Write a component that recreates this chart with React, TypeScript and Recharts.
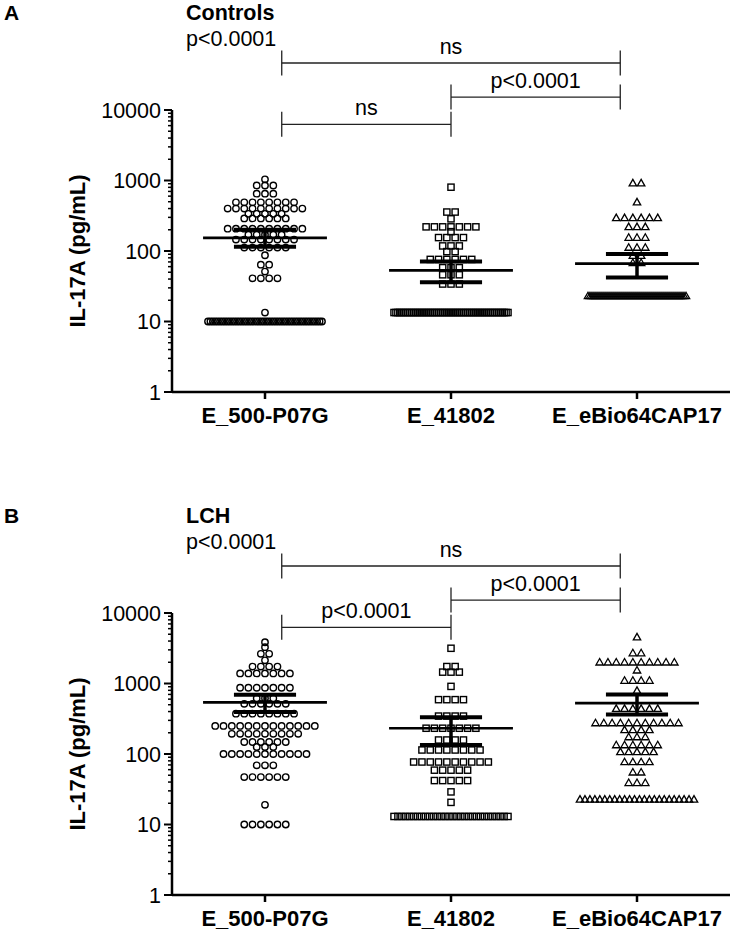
import { ScatterChart, Scatter, XAxis, YAxis, ReferenceLine } from "recharts";

const groups = ["E_500-P07G", "E_41802", "E_eBio64CAP17"];
const yMajor = [1, 10, 100, 1000, 10000];

// [value, how many samples at that value]
const ctrlP07G: [number, number][] = [
  [1040, 1], [850, 3], [650, 3], [490, 8], [400, 10], [337, 5], [290, 6], [207, 10],
  [170, 5], [145, 8], [112, 6], [87, 1], [64, 2], [51, 1], [41, 4], [13.4, 1], [10, 48],
];
const ctrl41802: [number, number][] = [
  [804, 1], [357, 2], [286, 1], [220, 7], [188, 1], [155, 4], [118, 3], [98, 2],
  [76, 6], [58, 3], [46, 3], [34, 3], [13.4, 60],
];
const ctrlEBio: [number, number][] = [
  [916, 2], [492, 1], [295, 6], [220, 3], [155, 3], [112, 3], [86, 2], [68, 2], [23, 50],
];
const ctrlMean = [154, 53, 66];
const ctrlSemHi = [200, 71, 91];
const ctrlSemLo = [115, 36, 42];
const ctrlTests = ["ns", "p<0.0001", "ns"]; // 1 vs 2, 2 vs 3, 1 vs 3

const lchP07G: [number, number][] = [
  [3850, 1], [3270, 1], [2640, 2], [2130, 1], [1740, 4], [1390, 7], [870, 7], [620, 3],
  [515, 6], [373, 8], [250, 13], [193, 9], [148, 6], [126, 3], [100, 11], [69, 3],
  [47, 6], [19, 1], [10, 6],
];
const lch41802: [number, number][] = [
  [3160, 1], [1740, 2], [1450, 3], [910, 1], [590, 4], [345, 4], [232, 7], [158, 4],
  [114, 8], [77, 10], [59, 5], [42, 5], [29, 1], [20.6, 1], [13, 30],
];
const lchEBio: [number, number][] = [
  [4540, 1], [2700, 2], [2000, 10], [1540, 1], [1100, 4], [790, 1], [440, 6], [275, 11],
  [220, 4], [174, 3], [134, 6], [107, 5], [77, 4], [55, 2], [39, 3], [22.7, 24],
];
const lchMean = [540, 232, 527];
const lchSemHi = [690, 333, 700];
const lchSemLo = [394, 134, 364];
const lchTests = ["p<0.0001", "p<0.0001", "ns"];

const yTicks = yMajor.flatMap((d, i) =>
  i < yMajor.length - 1 ? [1, 2, 3, 4, 5, 6, 7, 8, 9].map((m) => d * m) : [d]
);

// layout
const PLOT_W = 558;
const UNIT = PLOT_W / 3; // px per category column
const STEP = 8.3; // px between symbols in a row
const BRACKET_X = [0.59, 1.5, 2.41];
const BRACKET_LEVEL = [-0.203, 0.184, 0.667]; // decades above the 10000 line
const BRACKET_TICK = 0.177;
const FONT = "'Liberation Sans', Arial, Helvetica, sans-serif";

function swarm(rows: [number, number][], g: number, maxW: number) {
  const pts: { x: number; y: number }[] = [];
  rows.forEach(([v, n]) => {
    const step = n > 1 ? Math.min(STEP, maxW / (n - 1)) : 0;
    for (let i = 0; i < n; i++) {
      pts.push({ x: g + 0.5 + ((i - (n - 1) / 2) * step) / UNIT, y: v });
    }
  });
  return pts;
}

const Circle = (p: any) => (
  <circle cx={p.cx} cy={p.cy} r={3.2} fill="none" stroke="#000" strokeWidth={1.4} />
);
const Square = (p: any) => (
  <rect x={p.cx - 3.1} y={p.cy - 3.1} width={6.2} height={6.2} fill="none" stroke="#000" strokeWidth={1.4} />
);
const Triangle = (p: any) => (
  <path
    d={`M${p.cx},${p.cy - 3.8}L${p.cx + 3.7},${p.cy + 2.7}L${p.cx - 3.7},${p.cy + 2.7}Z`}
    fill="none"
    stroke="#000"
    strokeWidth={1.3}
  />
);
const SHAPES = [Circle, Square, Triangle];

function YTick(props: any) {
  const { x, y, payload } = props;
  const major = yMajor.includes(payload.value);
  return (
    <g>
      <line x1={x - (major ? 8 : 4)} x2={x} y1={y} y2={y} stroke="#000" strokeWidth={major ? 2 : 1.5} />
      {major && (
        <text x={x - 11} y={y} dy="0.36em" textAnchor="end" fontSize={21.5} fill="#000">
          {payload.value}
        </text>
      )}
    </g>
  );
}

type PanelProps = {
  top: number;
  letter: string;
  title: string;
  series: [number, number][][];
  mean: number[];
  hi: number[];
  lo: number[];
  tests: string[];
  floorW: number[];
};

function Panel({ top, letter, title, series, mean, hi, lo, tests, floorW }: PanelProps) {
  const data = series.map((rows, g) => swarm(rows, g, floorW[g]));
  const pairs = [[0, 1], [1, 2], [0, 2]];
  return (
    <div style={{ position: "absolute", left: 0, top, width: 733, height: 450 }}>
      <ScatterChart width={733} height={450} margin={{ top: 110, right: 3, bottom: 0, left: 0 }}>
        <XAxis
          type="number"
          dataKey="x"
          domain={[0, 3]}
          ticks={[0.5, 1.5, 2.5]}
          interval={0}
          tickFormatter={(v) => groups[Math.floor(v)]}
          height={58}
          axisLine={{ stroke: "#000", strokeWidth: 2.5 }}
          tickLine={{ stroke: "#000", strokeWidth: 2.5 }}
          tickSize={7}
          tickMargin={8}
          tick={{ fill: "#000", fontSize: 22, fontWeight: 700 }}
        />
        <YAxis
          type="number"
          dataKey="y"
          scale="log"
          domain={[1, 10000]}
          allowDataOverflow
          ticks={yTicks}
          interval={0}
          width={172}
          axisLine={{ stroke: "#000", strokeWidth: 2.5 }}
          tickLine={false}
          tickSize={0}
          tickMargin={0}
          tick={(p: any) => <YTick {...p} />}
        />
        {data.map((pts, g) => (
          <Scatter key={g} data={pts} shape={SHAPES[g]} isAnimationActive={false} />
        ))}
        {mean.map((m, g) => (
          <ReferenceLine
            key={`m${g}`}
            segment={[{ x: g + 0.5 - 0.333, y: m }, { x: g + 0.5 + 0.333, y: m }]}
            stroke="#000"
            strokeWidth={2.7}
            ifOverflow="visible"
          />
        ))}
        {mean.map((_, g) => (
          <ReferenceLine
            key={`v${g}`}
            segment={[{ x: g + 0.5, y: lo[g] }, { x: g + 0.5, y: hi[g] }]}
            stroke="#000"
            strokeWidth={3.5}
            ifOverflow="visible"
          />
        ))}
        {[...hi, ...lo].map((v, i) => {
          const g = i % 3;
          return (
            <ReferenceLine
              key={`c${i}`}
              segment={[{ x: g + 0.5 - 0.167, y: v }, { x: g + 0.5 + 0.167, y: v }]}
              stroke="#000"
              strokeWidth={4}
              ifOverflow="visible"
            />
          );
        })}
        {pairs.map(([a, b], i) => {
          const lv = 4 + BRACKET_LEVEL[i];
          const y = 10 ** lv;
          const y1 = 10 ** (lv - BRACKET_TICK);
          const y2 = 10 ** (lv + BRACKET_TICK);
          return [
            <ReferenceLine
              key={`bh${i}`}
              segment={[{ x: BRACKET_X[a], y }, { x: BRACKET_X[b], y }]}
              stroke="#222"
              strokeWidth={1.3}
              ifOverflow="visible"
              label={{ value: tests[i], position: "top", offset: 9, fill: "#000", fontSize: 21.5 }}
            />,
            <ReferenceLine
              key={`ba${i}`}
              segment={[{ x: BRACKET_X[a], y: y1 }, { x: BRACKET_X[a], y: y2 }]}
              stroke="#222"
              strokeWidth={1.3}
              ifOverflow="visible"
            />,
            <ReferenceLine
              key={`bb${i}`}
              segment={[{ x: BRACKET_X[b], y: y1 }, { x: BRACKET_X[b], y: y2 }]}
              stroke="#222"
              strokeWidth={1.3}
              ifOverflow="visible"
            />,
          ];
        })}
      </ScatterChart>
      <svg
        width={733}
        height={450}
        style={{ position: "absolute", left: 0, top: 0, pointerEvents: "none" }}
      >
        <text x={4} y={20} fontSize={21} fontWeight={700} fill="#000">
          {letter}
        </text>
        <text x={186} y={19.5} fontSize={21.5} fontWeight={700} fill="#000">
          {title}
        </text>
        <text x={186} y={46} fontSize={21.5} fill="#000">
          p&lt;0.0001
        </text>
        <text
          x={85}
          y={251}
          transform="rotate(-90 85 251)"
          textAnchor="middle"
          fontSize={22}
          fontWeight={700}
          fill="#000"
        >
          IL-17A (pg/mL)
        </text>
      </svg>
    </div>
  );
}

export default function App() {
  return (
    <div
      style={{
        position: "absolute",
        left: 0,
        top: 0,
        width: 733,
        height: 934,
        background: "#fff",
        fontFamily: FONT,
      }}
    >
      <Panel
        top={0}
        letter="A"
        title="Controls"
        series={[ctrlP07G, ctrl41802, ctrlEBio]}
        mean={ctrlMean}
        hi={ctrlSemHi}
        lo={ctrlSemLo}
        tests={ctrlTests}
        floorW={[114, 114, 98]}
      />
      <Panel
        top={503}
        letter="B"
        title="LCH"
        series={[lchP07G, lch41802, lchEBio]}
        mean={lchMean}
        hi={lchSemHi}
        lo={lchSemLo}
        tests={lchTests}
        floorW={[114, 114, 114]}
      />
    </div>
  );
}
